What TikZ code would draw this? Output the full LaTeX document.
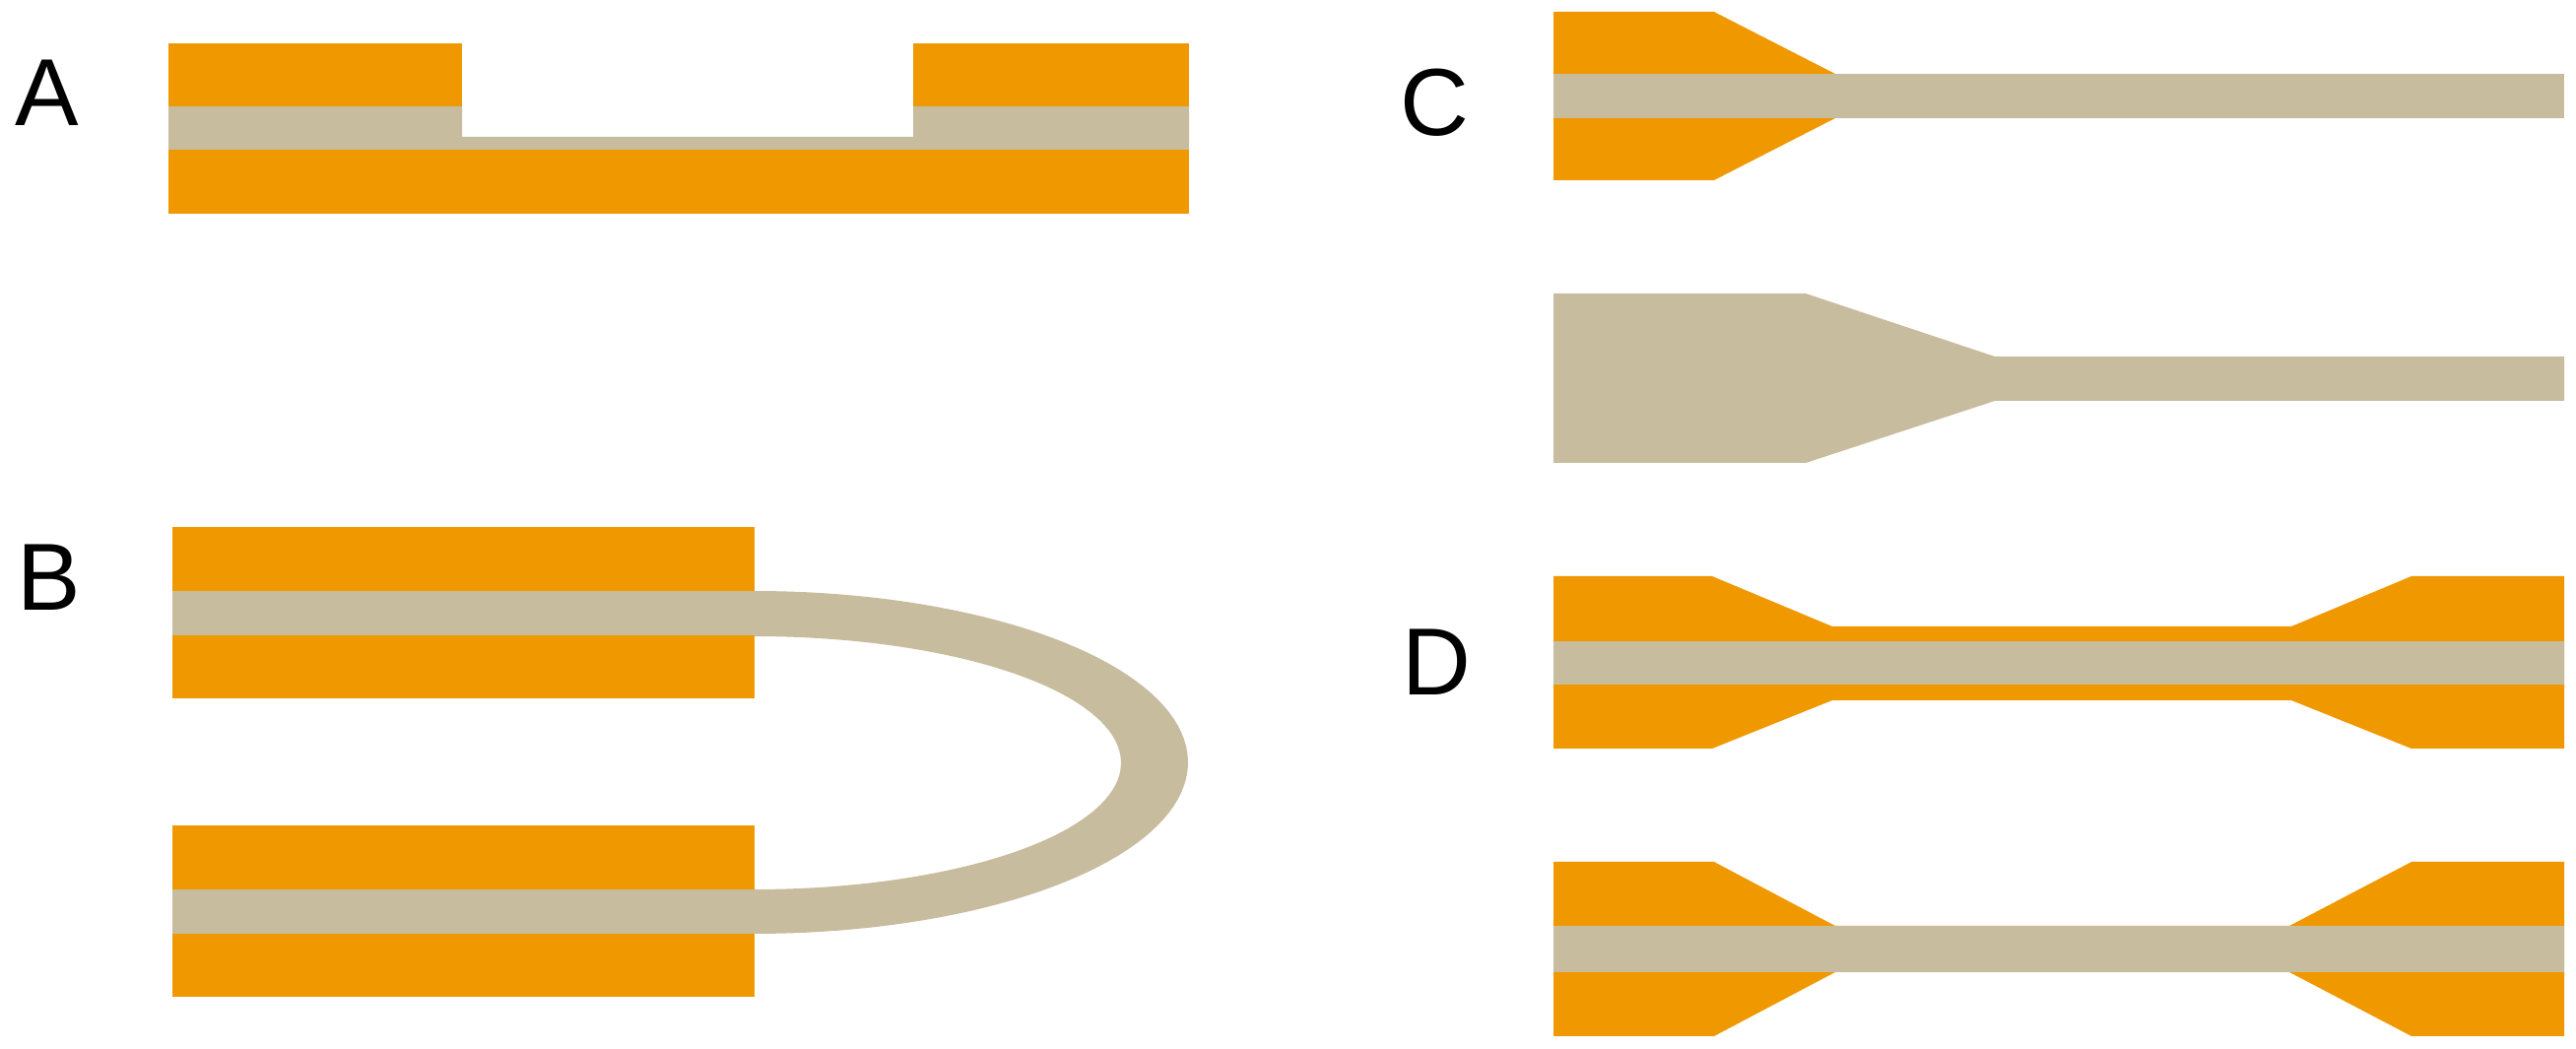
\documentclass[tikz,border=0pt]{standalone}
\usepackage{fontspec}
\setmainfont{Liberation Sans}
\definecolor{foilorange}{RGB}{240,152,0}
\definecolor{coretan}{RGB}{200,188,158}
\tikzset{
	foil/.style={fill=foilorange},
	core/.style={fill=coretan},
	panel label/.style={
		inner sep=0pt,
		anchor=base,
		font=\fontsize{27.5}{32}\selectfont,
	},
}

\begin{document}
\begin{tikzpicture}[x=0.01cm, y=-0.01cm]
\useasboundingbox (0,0) rectangle (2615,1065);

\foreach \t \x \y in {
	A/48/128
	,B/50/620
	,C/1456/138
	,D/1458/706
}{
	\node[panel label] (lbl\t) at (\x,\y) {\t};
}

% A
\fill[foil] (171,44) rectangle (469,108);
\fill[foil] (927,44) rectangle (1207,108);
\fill[core] (171,108) -- (469,108) -- (469,139) -- (927,139) -- (927,108)
	-- (1207,108) -- (1207,152) -- (171,152) -- cycle;
\fill[foil] (171,152) rectangle (1207,217);

% B
\foreach \y in {535,838}{
	\fill[foil] (175,\y) rectangle (766,\y+174);
	\fill[core] (175,\y+65) rectangle (768,\y+110);
}
\fill[core] plot[domain=-90:90, samples=80] ({766+440*cos(\x)},{774+174*sin(\x)})
	-- plot[domain=90:-90, samples=80] ({766+372*cos(\x)},{774.5+128.5*sin(\x)})
	-- cycle;

% C
\fill[foil] (1577,12) -- (1740,12) -- (1863,75) -- (1863,120) -- (1740,183)
	-- (1577,183) -- cycle;
\fill[core] (1577,75) rectangle (2603,120);
\fill[core] (1577,298) -- (1833,298) -- (2025,362) -- (2603,362) -- (2603,407)
	-- (2025,407) -- (1833,470) -- (1577,470) -- cycle;

% D
\fill[foil] (1577,585) -- (1738,585) -- (1860,636) -- (2326,636) -- (2448,585)
	-- (2603,585) -- (2603,760) -- (2448,760) -- (2326,711) -- (1860,711)
	-- (1738,760) -- (1577,760) -- cycle;
\fill[core] (1577,651) rectangle (2603,695);
\fill[foil] (1577,875) -- (1740,875) -- (1863,940) -- (2324,940) -- (2448,875)
	-- (2603,875) -- (2603,1052) -- (2448,1052) -- (2324,987) -- (1863,987)
	-- (1740,1052) -- (1577,1052) -- cycle;
\fill[core] (1577,940) rectangle (2603,987);
\end{tikzpicture}
\end{document}
